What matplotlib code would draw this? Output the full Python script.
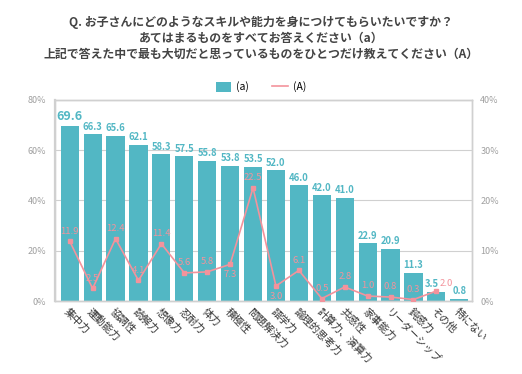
import matplotlib
matplotlib.use("Agg")
from matplotlib import pyplot as plt
from matplotlib.patches import Patch
from matplotlib.lines import Line2D
import numpy as np

plt.rcParams['font.family'] = ['Noto Sans CJK JP', 'DejaVu Sans']

# data
categories = ['集中力', '運動能力', '協調性', '読解力', '想像力', '忍耐力', '体力', '積極性',
              '問題解決力', '語学力', '論理的思考力', '計算力、演算力', '共感性', '家事能力',
              'リーダーシップ', '鈍感力', 'その他', '特にない']
values_a = [69.6, 66.3, 65.6, 62.1, 58.3, 57.5, 55.8, 53.8, 53.5, 52.0, 46.0, 42.0,
            41.0, 22.9, 20.9, 11.3, 3.5, 0.8]
values_A = [11.9, 2.5, 12.4, 4.1, 11.4, 5.6, 5.8, 7.3, 22.5, 3.0, 6.1, 0.5,
            2.8, 1.0, 0.8, 0.3, 2.0]
below_A = ['積極性', '語学力']   # labels drawn under the point

teal = '#52b7c4'
pink = '#f3939c'
gridc = '#d0d0d0'
tickc = '#a0a0a0'

fig = plt.figure(figsize=(5.22, 3.74), dpi=100)
ax = fig.add_axes([0.105, 0.195, 0.799, 0.538])
ax2 = ax.twinx()

x = np.arange(len(categories))
bars = ax.bar(x, values_a, width=0.79, color=teal, zorder=2)
ax.set_ylim(0, 80)
ax.set_xlim(-0.65, 17.55)
ax.set_yticks([0, 20, 40, 60, 80])
ax.set_yticklabels(['0%', '20%', '40%', '60%', '80%'])
ax.yaxis.grid(True, color=gridc, linewidth=0.8, zorder=0)
ax.set_axisbelow(True)

for i, v in enumerate(values_a):
    big = i == 0
    dx = -3 if categories[i] == 'その他' else 0
    ax.annotate(f'{v:.1f}', (x[i], v), xytext=(dx, 2), textcoords='offset points',
                ha='center', va='bottom', color=teal, fontweight='bold',
                fontsize=9 if big else 6.8, zorder=5)

xa = x[:len(values_A)]
ax2.plot(xa, values_A, color=pink, linewidth=1.2, marker='s', markersize=3, zorder=4)
ax2.set_ylim(0, 40)
ax2.set_yticks([0, 10, 20, 30, 40])
ax2.set_yticklabels(['0%', '10%', '20%', '30%', '40%'])
for i, v in enumerate(values_A):
    if categories[i] in below_A:
        ax2.annotate(f'{v:.1f}', (xa[i], v), xytext=(0, -4), textcoords='offset points',
                     ha='center', va='top', color=pink, fontsize=6.8)
    elif categories[i] == 'その他':
        ax2.annotate(f'{v:.1f}', (xa[i], v), xytext=(2, 2), textcoords='offset points',
                     ha='left', va='bottom', color=pink, fontsize=6.8)
    else:
        ax2.annotate(f'{v:.1f}', (xa[i], v), xytext=(0, 4), textcoords='offset points',
                     ha='center', va='bottom', color=pink, fontsize=6.8)

for a in (ax, ax2):
    for s in a.spines.values():
        s.set_color(gridc)
        s.set_linewidth(1)
    a.tick_params(axis='y', length=0, colors=tickc, labelsize=6.5, pad=6)
ax.spines['left'].set_linewidth(1.6)

ax.set_xticks(x)
ax.set_xticklabels(categories, rotation=-45, ha='left', va='top', rotation_mode='anchor',
                   fontsize=7.5, color='#333333')
ax.tick_params(axis='x', length=0, pad=4)

# title
title_lines = ['Q. お子さんにどのようなスキルや能力を身につけてもらいたいですか？',
               'あてはまるものをすべてお答えください（a）',
               '上記で答えた中で最も大切だと思っているものをひとつだけ教えてください（A）']
for k, t in enumerate(title_lines):
    fig.text(0.5, 0.94 - 0.043 * k, t, ha='center', va='center', fontsize=8.6,
             fontweight='bold', color='#444444')

handles = [Patch(facecolor=teal), Line2D([0], [0], color=pink, linewidth=1.2)]
fig.legend(handles, ['(a)', '(A)'], loc='center', bbox_to_anchor=(0.5, 0.768), ncol=2,
           frameon=False, fontsize=7.5, handlelength=1.5, handleheight=1.1,
           columnspacing=2.2, handletextpad=0.5)

fig.savefig('out.png', dpi=100, facecolor='white')
